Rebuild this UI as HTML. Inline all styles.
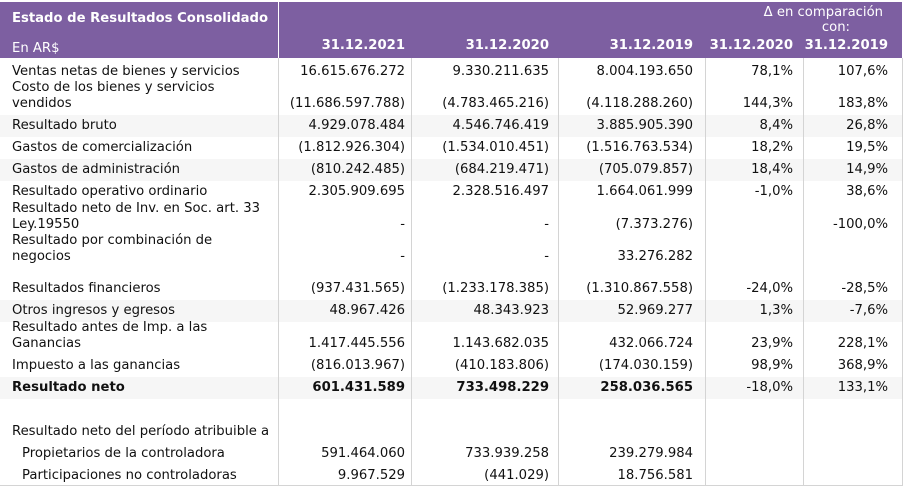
<!DOCTYPE html>
<html><head><meta charset="utf-8"><style>
body{margin:0;width:913px;height:499px;background:#fff;overflow:hidden;font-family:"DejaVu Sans","Liberation Sans",sans-serif;font-size:13.2px;color:#111;position:relative}
.hd{position:absolute;left:0;top:2px;width:902px;height:56px;background:#7d5fa1}
.t{position:absolute;white-space:nowrap;line-height:16px}
.r{position:absolute;white-space:nowrap;line-height:16px;text-align:right}
.w{color:#fff}
.b{font-weight:bold}
.vl{position:absolute;top:58px;height:428px;width:1px;background:#d4d4d4}
.st{position:absolute;left:0;width:902px;background:#f6f6f6}
</style></head><body>
<div class="hd"></div>
<div style="position:absolute;left:278px;top:2px;width:1px;height:56px;background:#fff"></div>
<div class="st" style="top:115px;height:22px"></div>
<div class="st" style="top:159px;height:22px"></div>
<div class="st" style="top:300px;height:22px"></div>
<div class="st" style="top:377px;height:22px"></div>
<div class="vl" style="left:278px"></div>
<div class="vl" style="left:411px"></div>
<div class="vl" style="left:558px"></div>
<div class="vl" style="left:705px"></div>
<div class="vl" style="left:803px"></div>
<div class="vl" style="left:902px"></div>
<div style="position:absolute;left:0;top:485px;width:902px;height:1px;background:#d4d4d4"></div>

<div class="t w b" style="left:12px;top:11px">Estado de Resultados Consolidado</div>
<div class="t w" style="left:12px;top:41px">En AR$</div>
<div class="r w b" style="right:508px;top:38px">31.12.2021</div>
<div class="r w b" style="right:364px;top:38px">31.12.2020</div>
<div class="r w b" style="right:220px;top:38px">31.12.2019</div>
<div class="r w b" style="right:120px;top:38px">31.12.2020</div>
<div class="r w b" style="right:25px;top:38px">31.12.2019</div>
<div class="r w" style="right:30px;top:5px">Δ en comparación</div>
<div class="r w" style="right:63px;top:20px">con:</div>

<div id="rows"></div>
<script>
var R=[
[64,["Ventas netas de bienes y servicios"],"16.615.676.272","9.330.211.635","8.004.193.650","78,1%","107,6%"],
[80,["Costo de los bienes y servicios","vendidos"],"(11.686.597.788)","(4.783.465.216)","(4.118.288.260)","144,3%","183,8%"],
[118,["Resultado bruto"],"4.929.078.484","4.546.746.419","3.885.905.390","8,4%","26,8%"],
[140,["Gastos de comercialización"],"(1.812.926.304)","(1.534.010.451)","(1.516.763.534)","18,2%","19,5%"],
[162,["Gastos de administración"],"(810.242.485)","(684.219.471)","(705.079.857)","18,4%","14,9%"],
[184,["Resultado operativo ordinario"],"2.305.909.695","2.328.516.497","1.664.061.999","-1,0%","38,6%"],
[201,["Resultado neto de Inv. en Soc. art. 33","Ley.19550"],"-","-","(7.373.276)","","-100,0%"],
[233,["Resultado por combinación de","negocios"],"-","-","33.276.282","",""],
[281,["Resultados financieros"],"(937.431.565)","(1.233.178.385)","(1.310.867.558)","-24,0%","-28,5%"],
[303,["Otros ingresos y egresos"],"48.967.426","48.343.923","52.969.277","1,3%","-7,6%"],
[320,["Resultado antes de Imp. a las","Ganancias"],"1.417.445.556","1.143.682.035","432.066.724","23,9%","228,1%"],
[358,["Impuesto a las ganancias"],"(816.013.967)","(410.183.806)","(174.030.159)","98,9%","368,9%"],
[380,["Resultado neto"],"601.431.589","733.498.229","258.036.565","-18,0%","133,1%",1],
[424,["Resultado neto del período atribuible a"],"","","","",""],
[446,["  Propietarios de la controladora"],"591.464.060","733.939.258","239.279.984","",""],
[468,["  Participaciones no controladoras"],"9.967.529","(441.029)","18.756.581","",""]
];
var rights=[508,364,220,120,25],h="";
R.forEach(function(r){
 var b=r[7]?" b":"";
 r[1].forEach(function(l,i){h+='<div class="t'+b+'" style="left:'+(l.indexOf("  ")==0?22:12)+'px;top:'+(r[0]+i*16)+'px">'+l.trim()+'</div>';});
 var vt=r[0]+(r[1].length-1)*16;
 for(var k=0;k<5;k++){if(r[2+k])h+='<div class="r'+(k<3?b:"")+'" style="right:'+rights[k]+'px;top:'+vt+'px">'+r[2+k]+'</div>';}
});
document.getElementById("rows").innerHTML=h;
</script>
</body></html>
